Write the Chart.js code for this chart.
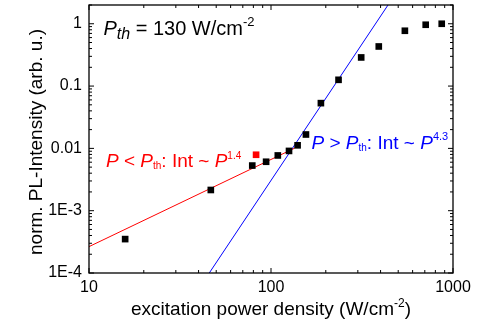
<!DOCTYPE html>
<html>
<head>
<meta charset="utf-8">
<script src="https://cdn.jsdelivr.net/npm/chart.js@4.4.1/dist/chart.umd.min.js"></script>
<style>
  html, body { margin: 0; padding: 0; background: #fff; }
  #wrap { width: 485px; height: 321px; }
</style>
</head>
<body>
<div id="wrap"><canvas id="plIntensity"></canvas></div>
<script>
"use strict";

// excitation power density (W/cm^-2) vs normalised PL intensity
var powerDensity = [15.8, 46.7, 78.9, 94, 109, 125.6, 140, 155.6, 188, 235, 313, 391, 544, 708, 867];
var plIntensity = [3.5e-4, 2.15e-3, 5.3e-3, 6.1e-3, 7.7e-3, 9.1e-3, 0.0112, 0.0167, 0.0532, 0.126, 0.288, 0.432, 0.772, 0.964, 1.0];

// highlighted measurement
var markedPower = [82.8];
var markedIntensity = [7.9e-3];

// power-law fits (end points): below and above threshold
var lowFitPower = [10, 135];
var lowFitIntensity = [2.65e-4, 0.0101];
var highFitPower = [45.8, 441];
var highFitIntensity = [1e-4, 2.03];

var xTickValues = [10, 100, 1000];
var xTickLabels = ["10", "100", "1000"];
var yTickValues = [1e-4, 1e-3, 0.01, 0.1, 1];
var yTickLabels = ["1E-4", "1E-3", "0.01", "0.1", "1"];

var FONT = "'Liberation Sans', Arial, sans-serif";
var RED = "#ff0000";
var BLUE = "#0000ff";

function toXY(xs, ys) {
    return xs.map(function (x, i) { return { x: x, y: ys[i] }; });
}

function fontOf(p) {
    return (p.italic ? "italic " : "") + p.size + "px " + FONT;
}

// draws a run of text pieces (sub/superscripts via dy) starting at x, baseline y
function drawRich(ctx, parts, x, y, align) {
    var total = 0;
    parts.forEach(function (p) {
        ctx.font = fontOf(p);
        p.w = ctx.measureText(p.text).width;
        total += p.w;
    });
    var cx = align === "center" ? x - total / 2 : x;
    ctx.textAlign = "left";
    ctx.textBaseline = "alphabetic";
    parts.forEach(function (p) {
        ctx.font = fontOf(p);
        ctx.fillText(p.text, cx, y + (p.dy || 0));
        cx += p.w;
    });
}

// text labels inside the plot, anchored at data coordinates
var annotations = [
    {
        at: [12.0, 0.666], color: "#000",
        parts: [
            { text: "P", size: 20, italic: true },
            { text: "th", size: 16, italic: true, dy: 4 },
            { text: " = 130 W/cm", size: 20 },
            { text: "-2", size: 13, dy: -9 }
        ]
    },
    {
        at: [12.4, 0.00505], color: RED,
        parts: [
            { text: "P", size: 19, italic: true },
            { text: " < ", size: 19 },
            { text: "P", size: 19, italic: true },
            { text: "th", size: 10, dy: 2 },
            { text: ": Int ~ ", size: 19 },
            { text: "P", size: 19, italic: true },
            { text: "1.4", size: 10, dy: -8 }
        ]
    },
    {
        at: [167, 0.0097], color: BLUE,
        parts: [
            { text: "P", size: 19, italic: true },
            { text: " > ", size: 19 },
            { text: "P", size: 19, italic: true },
            { text: "th", size: 10, dy: 2 },
            { text: ": Int ~ ", size: 19 },
            { text: "P", size: 19, italic: true },
            { text: "4.3", size: 11, dy: -9 }
        ]
    }
];

var xTitle = [
    { text: "excitation power density (W/cm", size: 19 },
    { text: "-2", size: 12, dy: -8 },
    { text: ")", size: 19 }
];
var yTitle = [{ text: "norm. PL-Intensity (arb. u.)", size: 19 }];

// box frame, inward ticks on all four sides, axis titles and labels
var frameAndLabels = {
    id: "frameAndLabels",
    afterDatasetsDraw: function (chart) {
        var ctx = chart.ctx;
        var a = chart.chartArea;
        var xs = chart.scales.x;
        var ys = chart.scales.y;
        ctx.save();
        ctx.strokeStyle = "#000";
        ctx.lineWidth = 1.3;
        ctx.strokeRect(a.left, a.top, a.right - a.left, a.bottom - a.top);

        ctx.lineWidth = 1;
        ctx.beginPath();
        function xTick(v, len) {
            var px = xs.getPixelForValue(v);
            ctx.moveTo(px, a.bottom); ctx.lineTo(px, a.bottom - len);
            ctx.moveTo(px, a.top); ctx.lineTo(px, a.top + len);
        }
        function yTick(v, len) {
            var py = ys.getPixelForValue(v);
            ctx.moveTo(a.left, py); ctx.lineTo(a.left + len, py);
            ctx.moveTo(a.right, py); ctx.lineTo(a.right - len, py);
        }
        xTickValues.forEach(function (d) {
            xTick(d, 5);
            for (var k = 2; k <= 9; k++) {
                if (d * k < xs.max) xTick(d * k, 3);
            }
        });
        yTickValues.forEach(function (d) {
            yTick(d, 5);
            for (var k = 2; k <= 9; k++) {
                if (d * k <= ys.max) yTick(d * k, 3);
            }
        });
        ctx.stroke();

        annotations.forEach(function (n) {
            ctx.fillStyle = n.color;
            drawRich(ctx, n.parts, xs.getPixelForValue(n.at[0]), ys.getPixelForValue(n.at[1]), "left");
        });

        ctx.fillStyle = "#000";
        drawRich(ctx, xTitle, (a.left + a.right) / 2, 315, "center");
        ctx.translate(42, (a.top + a.bottom) / 2 + 3);
        ctx.rotate(-Math.PI / 2);
        drawRich(ctx, yTitle, 0, 0, "center");
        ctx.restore();
    }
};

var tickFont = { family: FONT, size: 16 };

var PLCHART = document.getElementById("plIntensity");
var plChart = new Chart(PLCHART, {
    type: "scatter",
    data: {
        datasets: [
            {
                label: "PL intensity",
                data: toXY(powerDensity, plIntensity),
                pointStyle: "rect",
                pointRadius: 4.7,
                backgroundColor: "#000",
                borderWidth: 0
            },
            {
                label: "marked",
                data: toXY(markedPower, markedIntensity),
                pointStyle: "rect",
                pointRadius: 4.7,
                backgroundColor: RED,
                borderWidth: 0
            },
            {
                label: "P < Pth fit",
                data: toXY(lowFitPower, lowFitIntensity),
                showLine: true,
                borderColor: RED,
                borderWidth: 1,
                pointRadius: 0
            },
            {
                label: "P > Pth fit",
                data: toXY(highFitPower, highFitIntensity),
                showLine: true,
                borderColor: BLUE,
                borderWidth: 1,
                pointRadius: 0
            }
        ]
    },
    options: {
        responsive: true,
        maintainAspectRatio: false,
        animation: false,
        devicePixelRatio: 1,
        layout: { padding: { left: 0, right: 32, top: 5, bottom: 0 } },
        plugins: {
            legend: { display: false },
            tooltip: { enabled: false }
        },
        scales: {
            x: {
                type: "logarithmic",
                min: 10,
                max: 1000,
                grid: { display: false, drawTicks: false },
                border: { display: false },
                afterBuildTicks: function (scale) {
                    scale.ticks = xTickValues.map(function (v) { return { value: v }; });
                },
                afterFit: function (scale) {
                    scale.height = 48;
                    scale.paddingLeft = 0;
                    scale.paddingRight = 0;
                },
                ticks: {
                    font: tickFont,
                    color: "#000",
                    padding: 5,
                    maxRotation: 0,
                    autoSkip: false,
                    callback: function (v, i) { return xTickLabels[i]; }
                }
            },
            y: {
                type: "logarithmic",
                min: 1e-4,
                max: 2,
                grid: { display: false, drawTicks: false },
                border: { display: false },
                afterBuildTicks: function (scale) {
                    scale.ticks = yTickValues.map(function (v) { return { value: v }; });
                },
                afterFit: function (scale) {
                    scale.width = 89;
                    scale.paddingTop = 0;
                    scale.paddingBottom = 0;
                },
                ticks: {
                    font: tickFont,
                    color: "#000",
                    padding: 7,
                    autoSkip: false,
                    callback: function (v, i) { return yTickLabels[i]; }
                }
            }
        }
    },
    plugins: [frameAndLabels]
});
</script>
</body>
</html>
